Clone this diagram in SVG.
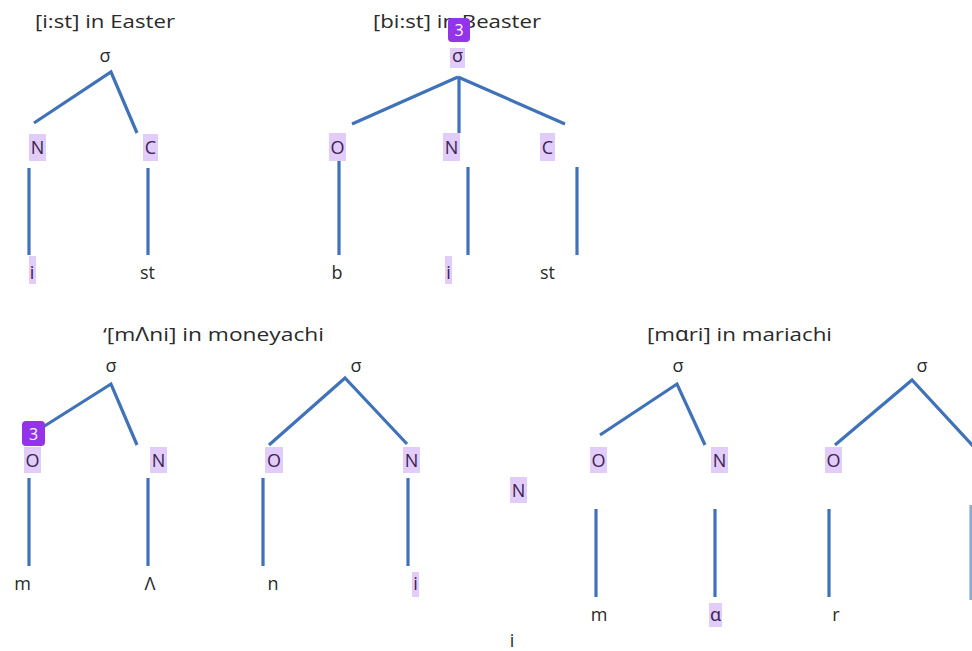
<svg xmlns="http://www.w3.org/2000/svg" width="972" height="651" viewBox="0 0 972 651">
<style>
text{font-family:"Open Sans","Noto Sans","Liberation Sans",sans-serif;fill:#2a2a2a;}
.t{font-size:19px;}
.l{font-size:18px;text-anchor:middle;}
.h{fill:#3b2352;}
.hl{fill:#e2cdfa;}
.e{stroke:#3f72b9;stroke-width:3.2;fill:none;stroke-linecap:butt;}
.badge{fill:#9333ea;}
.bt{font-size:16px;fill:#ffffff;text-anchor:middle;}
</style>
<rect width="972" height="651" fill="#ffffff"/>

<g id="titles">
<text class="t" x="35" y="28" textLength="140" lengthAdjust="spacingAndGlyphs">[i:st] in Easter</text>
<text class="t" x="373" y="28" textLength="168" lengthAdjust="spacingAndGlyphs">[bi:st] in Beaster</text>
<text class="t" x="103" y="341" textLength="221" lengthAdjust="spacingAndGlyphs">‘[mɅni] in moneyachi</text>
<text class="t" x="647" y="341" textLength="185" lengthAdjust="spacingAndGlyphs">[mɑri] in mariachi</text>
</g>

<g id="connectors">
<!-- top-left -->
<polyline class="e" points="34,123 111,72 137,133"/>
<line class="e" x1="29" y1="168" x2="29" y2="255"/>
<line class="e" x1="148" y1="168" x2="148" y2="255"/>
<!-- top-middle -->
<line class="e" x1="352" y1="124" x2="458" y2="77"/>
<line class="e" x1="458" y1="77" x2="565" y2="124"/>
<line class="e" x1="459" y1="77" x2="459" y2="133"/>
<line class="e" x1="339" y1="160" x2="339" y2="255"/>
<line class="e" x1="468" y1="167" x2="468" y2="255"/>
<line class="e" x1="577" y1="167" x2="577" y2="255"/>
<!-- bottom-left syllable 1 -->
<polyline class="e" points="43,427 111,384 137,445"/>
<line class="e" x1="29" y1="478" x2="29" y2="566"/>
<line class="e" x1="148" y1="478" x2="148" y2="566"/>
<!-- bottom-left syllable 2 -->
<polyline class="e" points="269,445 345,378 407,444"/>
<line class="e" x1="263" y1="478" x2="263" y2="566"/>
<line class="e" x1="408" y1="478" x2="408" y2="566"/>
<!-- bottom-right syllable 1 -->
<polyline class="e" points="600,435 677,384 705,445"/>
<line class="e" x1="596" y1="509" x2="596" y2="597"/>
<line class="e" x1="715" y1="509" x2="715" y2="597"/>
<!-- bottom-right syllable 2 -->
<polyline class="e" points="835,445 912,380 974,447"/>
<line class="e" x1="829" y1="509" x2="829" y2="597"/>
<line class="e" x1="971" y1="505" x2="971" y2="600" stroke-opacity="0.6"/>
</g>

<g id="tree-easter">
<text class="l" x="105" y="62">σ</text>
<rect class="hl" x="29" y="134" width="17" height="27"/>
<text class="l h" x="37.5" y="154">N</text>
<rect class="hl" x="143" y="134" width="15" height="27"/>
<text class="l h" x="150.5" y="154">C</text>
<rect class="hl" x="29" y="256" width="7" height="28"/>
<text class="l h" x="32" y="279">i</text>
<text class="l" x="147.5" y="279">st</text>
</g>

<g id="tree-beaster">
<rect class="hl" x="450" y="48" width="15" height="20"/>
<text class="l h" x="457.5" y="62">σ</text>
<rect class="hl" x="329" y="133" width="17" height="28"/>
<text class="l h" x="337.5" y="154">O</text>
<rect class="hl" x="443" y="133" width="17" height="28"/>
<text class="l h" x="451.5" y="154">N</text>
<rect class="hl" x="540" y="133" width="15" height="28"/>
<text class="l h" x="547.5" y="154">C</text>
<text class="l" x="337" y="279">b</text>
<rect class="hl" x="445" y="256" width="7" height="28"/>
<text class="l h" x="448.5" y="279">i</text>
<text class="l" x="547.5" y="279">st</text>
</g>

<g id="tree-money-1">
<text class="l" x="111" y="372">σ</text>
<rect class="hl" x="24" y="447" width="17" height="26"/>
<text class="l h" x="32.5" y="467">O</text>
<rect class="hl" x="150" y="447" width="17" height="26"/>
<text class="l h" x="158.5" y="467">N</text>
<text class="l" x="22.5" y="590">m</text>
<text class="l" x="150" y="590">Ʌ</text>
</g>

<g id="tree-money-2">
<text class="l" x="356" y="372">σ</text>
<rect class="hl" x="265" y="447" width="18" height="26"/>
<text class="l h" x="274" y="467">O</text>
<rect class="hl" x="403" y="447" width="17" height="26"/>
<text class="l h" x="411.5" y="467">N</text>
<text class="l" x="273" y="590">n</text>
<rect class="hl" x="412" y="572" width="7" height="25"/>
<text class="l h" x="415.5" y="590">i</text>
</g>

<g id="stray">
<rect class="hl" x="510" y="477" width="17" height="26"/>
<text class="l h" x="518.5" y="497">N</text>
<text class="l" x="512" y="647">i</text>
</g>

<g id="tree-mari-1">
<text class="l" x="678" y="372">σ</text>
<rect class="hl" x="590" y="447" width="17" height="26"/>
<text class="l h" x="598.5" y="467">O</text>
<rect class="hl" x="711" y="447" width="17" height="26"/>
<text class="l h" x="719.5" y="467">N</text>
<text class="l" x="599" y="621">m</text>
<rect class="hl" x="709" y="603" width="13" height="24"/>
<text class="l h" x="715.5" y="621">ɑ</text>
</g>

<g id="tree-mari-2">
<text class="l" x="922" y="372">σ</text>
<rect class="hl" x="825" y="447" width="17" height="26"/>
<text class="l h" x="833.5" y="467">O</text>
<text class="l" x="836" y="621">r</text>
</g>

<g id="badges">
<rect class="badge" x="448" y="18" width="22" height="24" rx="4"/>
<text class="bt" x="459" y="36">3</text>
<rect class="badge" x="22" y="421" width="23" height="25" rx="4"/>
<text class="bt" x="33.5" y="440">3</text>
</g>
</svg>
